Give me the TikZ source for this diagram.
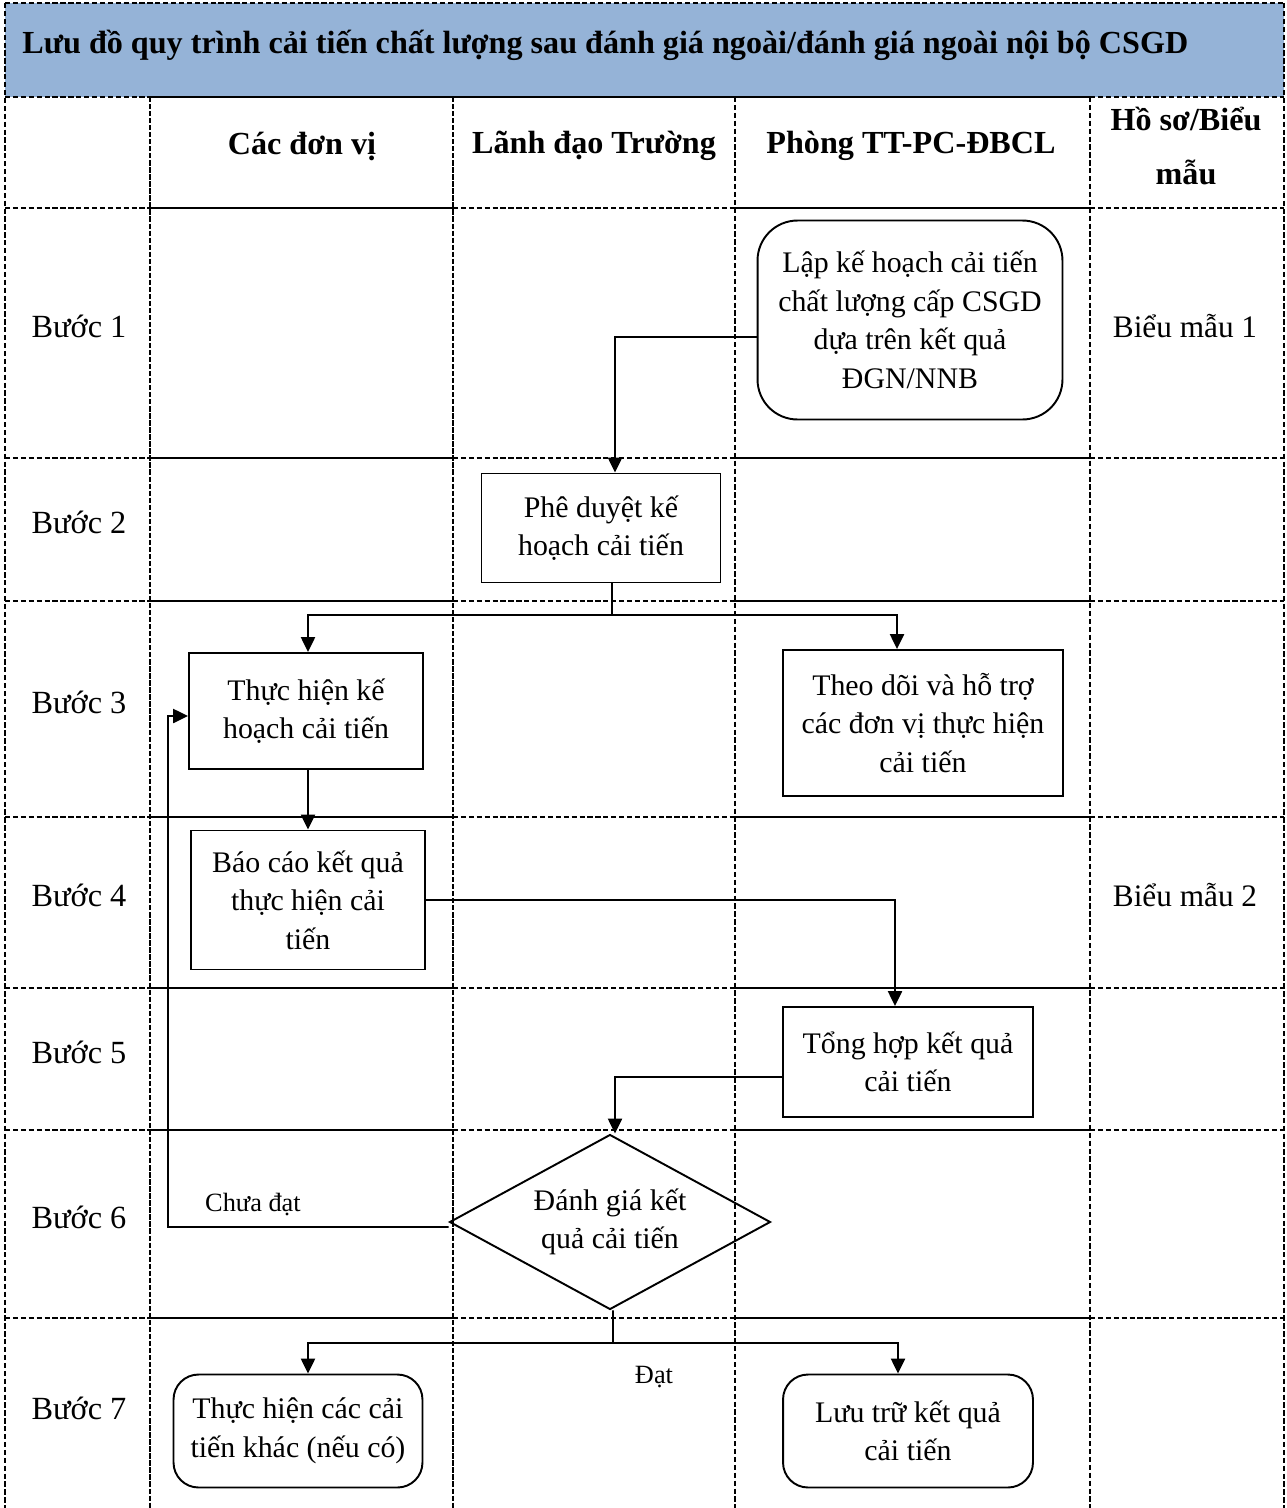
\documentclass[tikz,border=0pt]{standalone}
\usepackage{fontspec}
\setmainfont{Liberation Serif}
\usetikzlibrary{shapes.geometric,arrows.meta}
\definecolor{hdrblue}{HTML}{95B3D7}
\begin{document}
\begin{tikzpicture}[x=0.02cm,y=-0.02cm,
  txt/.style={font=\fontsize{17}{21.9}\selectfont, align=center, inner sep=0},
  rowtxt/.style={font=\fontsize{18.4}{22}\selectfont, align=center, inner sep=0},
  hdr/.style={font=\bfseries\fontsize{18.3}{31}\selectfont, align=center, inner sep=0},
  box/.style={draw, line width=1.1pt, txt},
  rbox/.style={box, rounded corners=0.5cm},
  lbl/.style={font=\fontsize{15}{18}\selectfont, inner sep=0},
  sol/.style={line width=1.3pt},
  dsh/.style={line width=1pt, dash pattern=on 3pt off 1.5pt},
  dshh/.style={line width=1.3pt, dash pattern=on 3pt off 1pt},
  con/.style={line width=1.1pt},
  arr/.style={con, -{Triangle[length=8.5pt,width=8pt]}}
]
\useasboundingbox (0,0) rectangle (1287,1508);
% header band
\fill[hdrblue] (5,3) rectangle (1284,97);
% grid
\draw[dsh] (5,3) -- (1284,3);
\draw[dsh] (5,97) -- (150,97);
\draw[sol] (150,97) -- (1090,97);
\draw[dsh] (1090,97) -- (1284,97);
\foreach \yy in {208,458,601,817,988,1130,1318} {
  \draw[dsh] (5,\yy) -- (150,\yy);
  \draw[sol] (150,\yy) -- (453,\yy);
  \draw[dsh] (453,\yy) -- (735,\yy);
  \draw[sol] (735,\yy) -- (1090,\yy);
  \draw[dsh] (1090,\yy) -- (1284,\yy);
}
\draw[dsh] (5,3) -- (5,1508);
\draw[dsh] (1284,3) -- (1284,1508);
\draw[dshh] (150,97) -- (150,1508);
\draw[dshh] (453,97) -- (453,1508);
\draw[dsh] (735,97) -- (735,1508);
\draw[dsh] (1090,97) -- (1090,1508);

% title and headers
\node[font=\bfseries\fontsize{18.3}{22}\selectfont, anchor=west, inner sep=0] (title) at (22,45)
  {Lưu đồ quy trình cải tiến chất lượng sau đánh giá ngoài/đánh giá ngoài nội bộ CSGD};
\node[hdr] (h1) at (302,146) {Các đơn vị};
\node[hdr] (h2) at (594,146) {Lãnh đạo Trường};
\node[hdr] (h3) at (911,146) {Phòng TT-PC-ĐBCL};
\node[hdr] (h4) at (1186,146) {Hồ sơ/Biểu\\mẫu};

% row labels
\node[rowtxt] (r1) at (79,326) {Bước 1};
\node[rowtxt] (r2) at (79,522) {Bước 2};
\node[rowtxt] (r3) at (79,702) {Bước 3};
\node[rowtxt] (r4) at (79,895) {Bước 4};
\node[rowtxt] (r5) at (79,1052) {Bước 5};
\node[rowtxt] (r6) at (79,1217) {Bước 6};
\node[rowtxt] (r7) at (79,1408) {Bước 7};
\node[rowtxt, font=\fontsize{17.8}{22}\selectfont] (bm1) at (1185,326) {Biểu mẫu 1};
\node[rowtxt, font=\fontsize{17.8}{22}\selectfont] (bm2) at (1185,895) {Biểu mẫu 2};

% process nodes
\node[box, rounded corners=0.8cm, minimum width=6.1cm, minimum height=3.98cm] (lap) at (910,320)
  {Lập kế hoạch cải tiến\\chất lượng cấp CSGD\\dựa trên kết quả\\ĐGN/NNB};
\node[box, minimum width=4.78cm, minimum height=2.18cm] (pd) at (601,528)
  {Phê duyệt kế\\hoạch cải tiến};
\node[box, minimum width=4.68cm, minimum height=2.32cm] (th) at (306,711)
  {Thực hiện kế\\hoạch cải tiến};
\node[box, minimum width=5.6cm, minimum height=2.92cm] (td) at (923,723)
  {Theo dõi và hỗ trợ\\các đơn vị thực hiện\\cải tiến};
\node[box, minimum width=4.68cm, minimum height=2.78cm] (bc) at (308,900)
  {Báo cáo kết quả\\thực hiện cải\\tiến};
\node[box, minimum width=5.0cm, minimum height=2.2cm] (thop) at (908,1062)
  {Tổng hợp kết quả\\cải tiến};
\node[draw, line width=1.1pt, diamond, aspect=1.834, minimum width=6.42cm, minimum height=3.5cm,
  font=\fontsize{17}{21.9}\selectfont, align=center, inner sep=0] (dm) at (610,1222)
  {Đánh giá kết\\quả cải tiến};
\node[rbox, minimum width=4.98cm, minimum height=2.26cm] (ck) at (298,1431)
  {Thực hiện các cải\\tiến khác (nếu có)};
\node[rbox, minimum width=5.0cm, minimum height=2.26cm] (lt) at (908,1431)
  {Lưu trữ kết quả\\cải tiến};

% connectors
\draw[arr] ([yshift=-0.34cm]lap.west) -| ([xshift=0.28cm]pd.north);
\coordinate (s1) at (612,615);
\draw[con] (pd.south -| s1) -- (s1);
\draw[arr] (s1) -| ([xshift=0.04cm]th.north);
\draw[arr] (s1) -| ([xshift=-0.52cm]td.north);
\draw[arr] (th.south -| bc.north) -- (bc.north);
\draw[arr] (bc.east) -| ([xshift=-0.26cm]thop.north);
\draw[arr] ([yshift=-0.3cm]thop.west) -| ([xshift=0.1cm]dm.north);
\coordinate (lp) at (168,1227);
\draw[arr] ([yshift=-0.1cm]dm.west) -- (lp) |- ([yshift=-0.1cm]th.west);
\coordinate (s2) at (613,1343);
\draw[con] ([xshift=0.06cm]dm.south) -- (s2);
\draw[arr] (s2) -| ([xshift=0.2cm]ck.north);
\draw[arr] (s2) -| ([xshift=-0.2cm]lt.north);

% labels
\node[lbl] (l1) at (253,1205) {Chưa đạt};
\node[lbl] (l2) at (654,1377) {Đạt};
\end{tikzpicture}
\end{document}
